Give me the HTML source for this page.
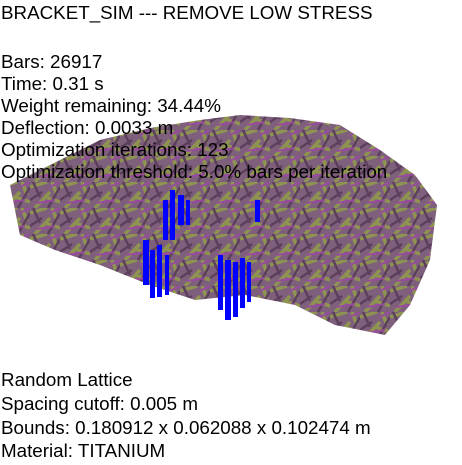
<!DOCTYPE html>
<html><head><meta charset="utf-8"><style>
body{margin:0;width:462px;height:465px;background:#fff;overflow:hidden;position:relative;font-family:"Liberation Sans",sans-serif}
.t{position:absolute;left:1px;font-size:18.8px;color:#000;white-space:nowrap;line-height:20px}
svg{position:absolute;left:0;top:0}
</style></head><body>
<svg width="462" height="465">
<defs>
<pattern id="lat" width="30" height="26" patternUnits="userSpaceOnUse">
<rect width="30" height="26" fill="#7e5f7c"/>
<path d="M0 5 L17 0 M5 26 L20 10 M15 15 L30 20 M22 0 L27 13" stroke="#8e9450" stroke-width="3.5"/>
<path d="M0 18 L12 10 M18 26 L30 5 M3 0 L10 15" stroke="#5c3f5c" stroke-width="2.5"/>
<path d="M7 21 L25 18 M20 5 L30 0" stroke="#9a4aa0" stroke-width="2"/>
</pattern>
</defs>
<polygon fill="url(#lat)" points="10,185 50,165 100,140 150,128 200,120 240,115 290,118 340,125 380,150 415,175 437,205 430,260 410,305 385,335 335,325 295,305 245,295 195,300 150,285 100,265 55,250 20,235"/>
<g fill="#0000ff">
<rect x="143" y="240" width="6" height="45"/><rect x="150" y="250" width="5" height="48"/><rect x="157" y="245" width="5" height="52"/><rect x="165" y="255" width="4" height="40"/>
<rect x="163" y="200" width="5" height="40"/><rect x="170" y="190" width="5" height="50"/><rect x="178" y="195" width="6" height="30"/><rect x="186" y="200" width="4" height="25"/>
<rect x="218" y="255" width="5" height="55"/><rect x="225" y="260" width="6" height="60"/><rect x="233" y="262" width="5" height="55"/><rect x="240" y="258" width="5" height="50"/><rect x="247" y="262" width="4" height="40"/>
<rect x="255" y="200" width="5" height="22"/>
</g>
</svg>
<div class="t" style="top:3px">BRACKET_SIM --- REMOVE LOW STRESS</div>
<div class="t" style="top:52px">Bars: 26917</div>
<div class="t" style="top:74px">Time: 0.31 s</div>
<div class="t" style="top:96px">Weight remaining: 34.44%</div>
<div class="t" style="top:118px">Deflection: 0.0033 m</div>
<div class="t" style="top:140px">Optimization iterations: 123</div>
<div class="t" style="top:162px">Optimization threshold: 5.0% bars per iteration</div>
<div class="t" style="top:370px">Random Lattice</div>
<div class="t" style="top:394px">Spacing cutoff: 0.005 m</div>
<div class="t" style="top:418px">Bounds: 0.180912 x 0.062088 x 0.102474 m</div>
<div class="t" style="top:441px">Material: TITANIUM</div>
</body></html>
